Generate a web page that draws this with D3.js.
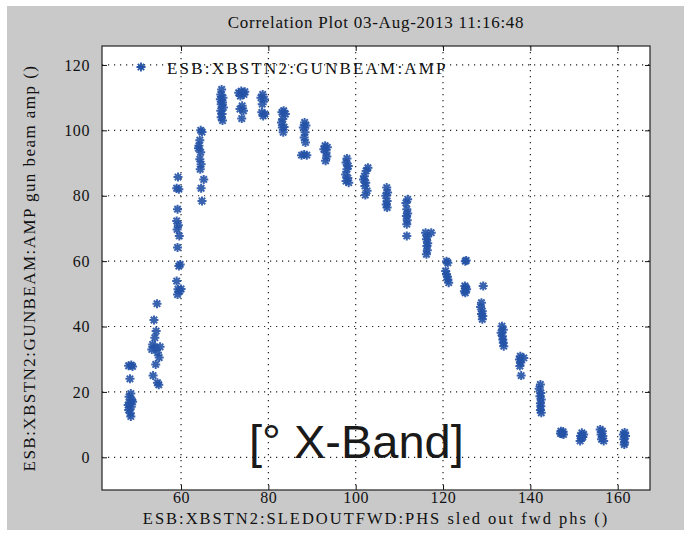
<!DOCTYPE html>
<html>
<head>
<meta charset="utf-8">
<script src="https://cdn.jsdelivr.net/npm/d3@7"></script>
<style>
  body { margin: 0; background: #fff; }
  svg { display: block; }
</style>
</head>
<body>
<div id="chart"></div>
<script>
// scan samples: [sled out fwd phs, gun beam amp]
var samples = [
  [48.0,28],[48.6,28.2],[48.9,27.8],[48.3,24],[48.5,19.5],[48.1,18.5],[48.7,17.5],[48.2,16.5],[48.6,15.5],[48.0,14.5],[48.4,13.5],[48.5,12.5],[48.9,17],[47.9,16],
  [54.5,47],[53.8,42],[54.3,38.6],[54,36.6],[53.5,34.5],[54.2,33.5],[54.6,32],[55,30.5],[54.2,28.4],[53.6,25],[54.6,22.8],[54.9,22.2],[53.3,33],[55.2,33.8],
  [59.3,85.7],[59.0,82.3],[59.5,82],[59.2,75.9],[59.0,72.3],[59.4,71],[59.1,69.7],[59.6,67.7],[59.2,64.2],[59.8,59],[59.5,58.5],[59.0,53.9],[59.3,51.4],[59.7,50.8],[59.2,49.8],[60.0,51.5],
  [64.5,100],[64.8,99.5],[64.3,97],[64.1,95.3],[64.5,93.3],[64.3,91.2],[64.6,89.6],[64.4,88.1],[65.2,85],[64.6,82.3],[64.8,78.4],[64.0,94.5],
  [69.3,112.5],[69.1,111],[69.6,110],[69.0,109.5],[69.5,108.5],[69.2,108],[69.7,107],[69.1,106],[69.4,105],[69.2,104],[69.5,103],
  [73.8,112],[73.2,111.5],[74.4,111],[73.6,110.5],[74.0,107.5],[73.5,106.5],[74.3,106],[73.9,103.6],[74.6,111.8],
  [78.7,111],[78.3,110],[79.1,109.5],[78.6,108],[78.5,105.5],[79.2,105],[78.8,104.4],
  [83.5,106],[83.1,105.5],[83.9,105],[83.3,103.5],[83.0,102.4],[83.6,101],[83.2,100.9],[83.4,99.4],
  [88.3,102.4],[88.6,101.5],[88.0,100.9],[88.4,99.4],[88.2,97.8],[88.5,96.3],[87.6,92.4],[88.2,92.6],[88.8,92.4],
  [93.0,95.3],[93.5,94.8],[92.7,94.2],[93.2,93.2],[93.4,92],[93.1,90.7],
  [98.0,91.4],[97.8,90.2],[98.3,89.1],[98.0,88.1],[97.7,86.5],[98.2,85.4],[97.8,84.5],[98.4,84],
  [102.8,88.6],[102.4,87.6],[102.0,86],[101.8,85],[102.3,84],[102.1,83],[102.6,81.5],[102.2,80.2],
  [107.1,82.5],[107.3,81],[106.9,80],[107.2,78.4],[107.0,77.3],[107.2,76.4],
  [111.9,78.9],[111.5,77.8],[111.7,75.9],[111.9,74.6],[111.6,73.8],[111.8,72.5],[111.7,71.3],[111.7,67.7],
  [116.0,68.7],[117.3,68.7],[116.4,67.5],[116.2,66.7],[116.5,65.5],[116.3,64.6],[116.4,63.3],[116.2,62.1],
  [120.8,60],[121.1,59.5],[120.6,57],[120.8,56],[121.0,55.2],[121.1,54.4],[121.3,53.4],
  [125.1,60],[125.3,60.2],[125.0,52.4],[125.2,51.9],[125.4,51.4],[124.9,50.8],[125.1,50.3],
  [129.2,52.4],[128.8,47.3],[128.6,46],[129.0,44.7],[128.8,43.8],[129.1,43.2],[129.0,42.2],
  [133.5,40.1],[133.8,39],[133.3,38.1],[133.6,37],[133.7,36],[133.8,35],[133.9,34],
  [137.7,30.9],[138.5,30.4],[137.5,29.9],[137.8,29],[137.6,27.9],[137.9,25],
  [142.3,22.3],[142.0,21],[142.4,19.7],[142.2,18.7],[142.5,17.7],[142.3,16.5],[142.4,15.6],[142.3,14.5],[142.5,13.6],
  [147.0,8],[147.5,7.8],[147.2,7.2],[147.6,7],[146.9,7.3],
  [151.8,7.5],[152.2,7],[151.5,6.5],[151.7,5.8],[151.4,5],[152.0,6.2],
  [156.0,8.5],[156.5,8],[156.2,7],[156.6,6.5],[156.3,5.5],[156.8,5],
  [161.6,7.6],[161.3,7],[161.8,6.5],[161.4,5.5],[161.6,4.5],[161.5,3.9]
];
var xTicks = [60, 80, 100, 120, 140, 160];
var yTicks = [0, 20, 40, 60, 80, 100, 120];
var title = "Correlation Plot 03-Aug-2013 11:16:48";
var xLabel = "ESB:XBSTN2:SLEDOUTFWD:PHS sled out fwd phs ()";
var yLabel = "ESB:XBSTN2:GUNBEAM:AMP gun beam amp ()";
var legendLabel = "ESB:XBSTN2:GUNBEAM:AMP";
var note = "[\u00B0 X-Band]";

var W = 684, H = 535;
var plot = {left: 102, top: 46, right: 650, bottom: 490};
var blue = "#2352a6";
var serif = "'Liberation Serif', 'DejaVu Serif', serif";

var svg = d3.select("#chart").append("svg").attr("width", W).attr("height", H);
svg.append("rect").attr("x", 7).attr("y", 6).attr("width", W - 7).attr("height", 524).attr("fill", "#c9c9c9");

var x = d3.scaleLinear().domain([41.9, 167.4]).range([plot.left, plot.right]);
var y = d3.scaleLinear().domain([-10, 125.8]).range([plot.bottom, plot.top]);

svg.append("rect").attr("x", plot.left).attr("y", plot.top)
  .attr("width", plot.right - plot.left).attr("height", plot.bottom - plot.top).attr("fill", "#fff");

// dotted grid
var grid = svg.append("g").attr("stroke", "#222").attr("stroke-width", 1.2).attr("stroke-dasharray", "1.2,4.8");
grid.selectAll(".gx").data(xTicks).enter().append("line")
  .attr("x1", function(d){return x(d);}).attr("x2", function(d){return x(d);})
  .attr("y1", plot.top).attr("y2", plot.bottom);
grid.selectAll(".gy").data(yTicks).enter().append("line")
  .attr("y1", function(d){return y(d);}).attr("y2", function(d){return y(d);})
  .attr("x1", plot.left).attr("x2", plot.right);

// axes, ticks pointing in, on all four sides
function styleAxis(g){
  g.select(".domain").remove();
  g.selectAll(".tick line").attr("stroke", "#111");
  g.selectAll(".tick text").attr("font-family", serif).attr("font-size", "16px")
    .attr("letter-spacing", "0.6px").attr("fill", "#111");
}
svg.append("g").attr("transform", "translate(0," + plot.bottom + ")")
  .call(d3.axisBottom(x).tickValues(xTicks).tickSizeInner(-5).tickSizeOuter(0).tickPadding(2))
  .call(styleAxis);
svg.append("g").attr("transform", "translate(0," + plot.top + ")")
  .call(d3.axisTop(x).tickValues(xTicks).tickSizeInner(-5).tickSizeOuter(0).tickFormat(""))
  .call(styleAxis);
svg.append("g").attr("transform", "translate(" + plot.left + ",0)")
  .call(d3.axisLeft(y).tickValues(yTicks).tickSizeInner(-5).tickSizeOuter(0).tickPadding(12))
  .call(styleAxis);
svg.append("g").attr("transform", "translate(" + plot.right + ",0)")
  .call(d3.axisRight(y).tickValues(yTicks).tickSizeInner(-5).tickSizeOuter(0).tickFormat(""))
  .call(styleAxis);
svg.append("rect").attr("x", plot.left).attr("y", plot.top)
  .attr("width", plot.right - plot.left).attr("height", plot.bottom - plot.top)
  .attr("fill", "none").attr("stroke", "#222").attr("stroke-width", 1.2);

// asterisk marker (plus + cross)
var r = 4.5, q = 3.2;
var star = "M" + (-r) + ",0L" + r + ",0M0," + (-r) + "L0," + r +
  "M" + (-q) + "," + (-q) + "L" + q + "," + q + "M" + (-q) + "," + q + "L" + q + "," + (-q);

svg.append("g").selectAll("path").data(samples).enter().append("path")
  .attr("d", star)
  .attr("transform", function(d){return "translate(" + x(d[0]) + "," + y(d[1]) + ")";})
  .attr("fill", "none").attr("stroke", blue).attr("stroke-width", 2).attr("stroke-opacity", 0.9);

// legend
svg.append("path").attr("d", star).attr("transform", "translate(141,67)")
  .attr("fill", "none").attr("stroke", blue).attr("stroke-width", 1.8);
svg.append("text").attr("x", 167).attr("y", 74).text(legendLabel)
  .attr("font-family", serif).attr("font-size", "17px").attr("letter-spacing", "2.2px").attr("fill", "#111");

// big annotation
svg.append("text").attr("x", 249).attr("y", 458).text(note)
  .attr("font-family", "'Liberation Sans', Arial, sans-serif").attr("font-size", "47px").attr("fill", "#1a1a1a");

// titles
svg.append("text").attr("x", (plot.left + plot.right) / 2).attr("y", 28).attr("text-anchor", "middle")
  .text(title).attr("font-family", serif).attr("font-size", "17px").attr("letter-spacing", "0.75px").attr("fill", "#111");
svg.append("text").attr("x", (plot.left + plot.right) / 2).attr("y", 524).attr("text-anchor", "middle")
  .text(xLabel).attr("font-family", serif).attr("font-size", "16.5px").attr("letter-spacing", "2px").attr("fill", "#111");
svg.append("text").attr("transform", "translate(35," + ((plot.top + plot.bottom) / 2) + ") rotate(-90)")
  .attr("text-anchor", "middle").text(yLabel)
  .attr("font-family", serif).attr("font-size", "17px").attr("letter-spacing", "1.45px").attr("fill", "#111");
</script>
</body>
</html>
